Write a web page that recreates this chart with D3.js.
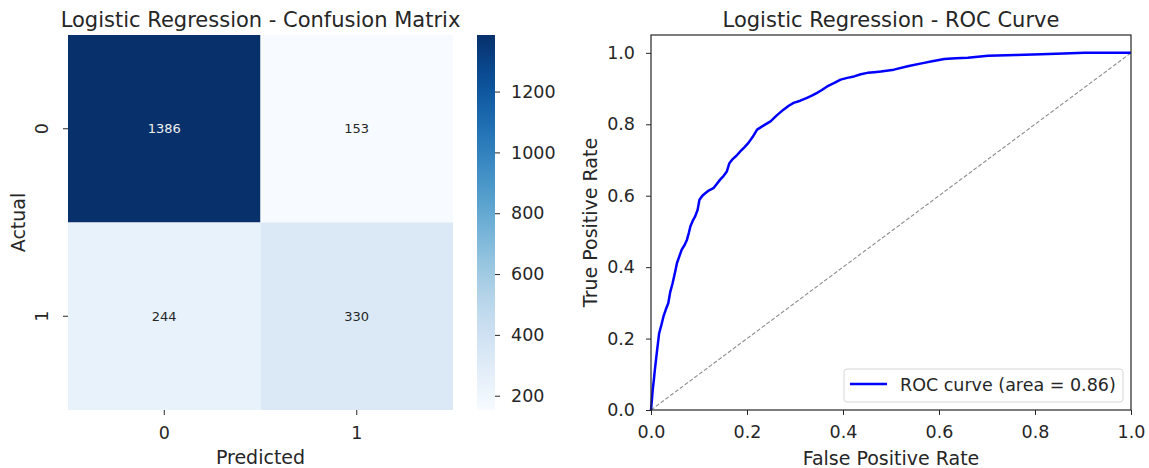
<!DOCTYPE html>
<html>
<head>
<meta charset="utf-8">
<script src="https://cdn.jsdelivr.net/npm/d3@7"></script>
<style>
  html, body { margin: 0; padding: 0; background: #fff; }
  svg text { font-family: "DejaVu Sans", sans-serif; fill: #262626; }
</style>
</head>
<body>
<svg id="chart" width="1149" height="468"></svg>
<script>
// Confusion matrix counts (rows = actual, columns = predicted)
const classLabels = ["0", "1"];
const matrixRow0 = [1386, 153];
const matrixRow1 = [244, 330];
const colorbarTicks = [200, 400, 600, 800, 1000, 1200];

// ROC curve points (false positive rate, true positive rate)
const rocFpr = [0, 0.002, 0.0035, 0.006, 0.008, 0.012, 0.017, 0.022, 0.026, 0.031, 0.036, 0.040, 0.045, 0.050, 0.054, 0.059, 0.064, 0.070, 0.075, 0.079, 0.082, 0.087, 0.092, 0.097, 0.101, 0.107, 0.113, 0.121, 0.130, 0.137, 0.144, 0.151, 0.158, 0.163, 0.169, 0.178, 0.186, 0.195, 0.203, 0.212, 0.221, 0.235, 0.249, 0.262, 0.276, 0.287, 0.297, 0.311, 0.325, 0.335, 0.346, 0.356, 0.367, 0.381, 0.395, 0.409, 0.423, 0.437, 0.451, 0.465, 0.479, 0.506, 0.537, 0.569, 0.583, 0.611, 0.635, 0.660, 0.702, 0.760, 0.813, 0.860, 0.903, 0.950, 1.0];
const rocTpr = [0, 0.030, 0.056, 0.085, 0.112, 0.159, 0.215, 0.240, 0.262, 0.282, 0.299, 0.330, 0.355, 0.385, 0.411, 0.430, 0.449, 0.462, 0.477, 0.497, 0.514, 0.530, 0.542, 0.560, 0.589, 0.600, 0.607, 0.615, 0.621, 0.633, 0.645, 0.655, 0.668, 0.690, 0.701, 0.712, 0.724, 0.736, 0.748, 0.765, 0.785, 0.797, 0.808, 0.825, 0.841, 0.852, 0.860, 0.866, 0.874, 0.880, 0.888, 0.896, 0.906, 0.915, 0.925, 0.930, 0.934, 0.940, 0.944, 0.946, 0.948, 0.953, 0.963, 0.972, 0.976, 0.983, 0.985, 0.986, 0.992, 0.994, 0.996, 0.998, 1.0, 1.0, 1.0];
const rocTicks = [0, 0.2, 0.4, 0.6, 0.8, 1.0];
const aucLabel = "ROC curve (area = 0.86)";

const svg = d3.select("#chart");
const tickFont = 17.5;
const labelFont = 19;
const titleFont = 21;

// ---------- Confusion matrix heatmap ----------
const hm = { left: 68, right: 453, top: 35, bottom: 410 };
const matrix = [matrixRow0, matrixRow1];
const cells = [];
matrix.forEach((row, i) => row.forEach((v, j) => cells.push({ actual: classLabels[i], predicted: classLabels[j], value: v })));

const allVals = cells.map(d => d.value);
const vmin = d3.min(allVals), vmax = d3.max(allVals);
const color = d3.scaleSequential(d3.interpolateBlues).domain([vmin, vmax]);

const xBand = d3.scaleBand().domain(classLabels).range([hm.left, hm.right]);
const yBand = d3.scaleBand().domain(classLabels).range([hm.top, hm.bottom]);

const hmG = svg.append("g");
hmG.selectAll("rect.cell").data(cells).join("rect")
  .attr("class", "cell")
  .attr("x", d => xBand(d.predicted))
  .attr("y", d => yBand(d.actual))
  .attr("width", xBand.bandwidth())
  .attr("height", yBand.bandwidth())
  .attr("fill", d => color(d.value));

hmG.selectAll("text.annot").data(cells).join("text")
  .attr("class", "annot")
  .attr("x", d => xBand(d.predicted) + xBand.bandwidth() / 2)
  .attr("y", d => yBand(d.actual) + yBand.bandwidth() / 2)
  .attr("text-anchor", "middle")
  .attr("dominant-baseline", "central")
  .style("font-size", "13px")
  .style("fill", d => (d.value - vmin) / (vmax - vmin) > 0.6 ? "#f0f0f0" : "#262626")
  .text(d => d.value);

// heatmap axes (no domain line)
const hmX = hmG.append("g").attr("transform", `translate(0,${hm.bottom})`)
  .call(d3.axisBottom(xBand).tickSize(5).tickPadding(12));
hmX.select(".domain").remove();
hmX.selectAll("text").style("font-size", tickFont + "px").attr("fill", "#262626");
hmX.selectAll("line").attr("stroke", "#262626");

const hmY = hmG.append("g").attr("transform", `translate(${hm.left},0)`)
  .call(d3.axisLeft(yBand).tickSize(5).tickPadding(0));
hmY.select(".domain").remove();
hmY.selectAll("line").attr("stroke", "#262626");
hmY.selectAll("text")
  .style("font-size", tickFont + "px").attr("fill", "#262626")
  .attr("x", null).attr("dy", null)
  .attr("text-anchor", "middle")
  .attr("transform", "translate(-20,0) rotate(-90)");

svg.append("text").attr("x", (hm.left + hm.right) / 2).attr("y", 464)
  .attr("text-anchor", "middle").style("font-size", labelFont + "px").text("Predicted");
svg.append("text").attr("transform", `translate(25,${(hm.top + hm.bottom) / 2}) rotate(-90)`)
  .attr("text-anchor", "middle").style("font-size", labelFont + "px").text("Actual");
svg.append("text").attr("x", (hm.left + hm.right) / 2).attr("y", 26.5)
  .attr("text-anchor", "middle").style("font-size", titleFont + "px").text("Logistic Regression - Confusion Matrix");

// colorbar
const cb = { x: 477, w: 18, top: 35, bottom: 410 };
const defs = svg.append("defs");
const grad = defs.append("linearGradient").attr("id", "cbGrad")
  .attr("x1", 0).attr("y1", 1).attr("x2", 0).attr("y2", 0);
d3.range(0, 1.0001, 0.05).forEach(t => {
  grad.append("stop").attr("offset", t).attr("stop-color", color(vmin + t * (vmax - vmin)));
});
svg.append("rect").attr("x", cb.x).attr("y", cb.top).attr("width", cb.w)
  .attr("height", cb.bottom - cb.top).attr("fill", "url(#cbGrad)");
const cbScale = d3.scaleLinear().domain([vmin, vmax]).range([cb.bottom, cb.top]);
const cbAxis = svg.append("g").attr("transform", `translate(${cb.x + cb.w},0)`)
  .call(d3.axisRight(cbScale).tickValues(colorbarTicks).tickFormat(d3.format("d")).tickSize(5).tickPadding(11));
cbAxis.select(".domain").remove();
cbAxis.selectAll("line").attr("stroke", "#262626");
cbAxis.selectAll("text").style("font-size", tickFont + "px").attr("fill", "#262626");

// ---------- ROC curve ----------
const rc = { left: 651, right: 1131, top: 35, bottom: 410 };
const xS = d3.scaleLinear().domain([0, 1]).range([rc.left, rc.right]);
const yS = d3.scaleLinear().domain([0, 1.05]).range([rc.bottom, rc.top]);

const rocG = svg.append("g");
rocG.append("line")
  .attr("x1", xS(0)).attr("y1", yS(0)).attr("x2", xS(1)).attr("y2", yS(1))
  .attr("stroke", "#8c8c8c").attr("stroke-width", 1.1).attr("stroke-dasharray", "4,2");

const rocPts = rocFpr.map((f, i) => [f, rocTpr[i]]);
rocG.append("path").datum(rocPts)
  .attr("fill", "none").attr("stroke", "#0000ff").attr("stroke-width", 2.5)
  .attr("stroke-linejoin", "round")
  .attr("d", d3.line().x(d => xS(d[0])).y(d => yS(d[1])));

const rx = rocG.append("g").attr("transform", `translate(0,${rc.bottom})`)
  .call(d3.axisBottom(xS).tickValues(rocTicks).tickFormat(d3.format(".1f")).tickSize(5).tickPadding(11));
const ry = rocG.append("g").attr("transform", `translate(${rc.left},0)`)
  .call(d3.axisLeft(yS).tickValues(rocTicks).tickFormat(d3.format(".1f")).tickSize(5).tickPadding(11));
[rx, ry].forEach(a => {
  a.select(".domain").remove();
  a.selectAll("line").attr("stroke", "#262626");
  a.selectAll("text").style("font-size", tickFont + "px").attr("fill", "#262626");
});
rocG.append("rect").attr("x", rc.left).attr("y", rc.top)
  .attr("width", rc.right - rc.left).attr("height", rc.bottom - rc.top)
  .attr("fill", "none").attr("stroke", "#262626").attr("stroke-width", 1.2);

svg.append("text").attr("x", (rc.left + rc.right) / 2).attr("y", 465)
  .attr("text-anchor", "middle").style("font-size", labelFont + "px").text("False Positive Rate");
svg.append("text").attr("transform", `translate(597,${(rc.top + rc.bottom) / 2}) rotate(-90)`)
  .attr("text-anchor", "middle").style("font-size", labelFont + "px").text("True Positive Rate");
svg.append("text").attr("x", (rc.left + rc.right) / 2).attr("y", 26.5)
  .attr("text-anchor", "middle").style("font-size", titleFont + "px").text("Logistic Regression - ROC Curve");

// legend
const lg = svg.append("g");
lg.append("rect").attr("x", 844).attr("y", 369).attr("width", 279).attr("height", 33)
  .attr("rx", 3).attr("fill", "#fff").attr("fill-opacity", 0.8)
  .attr("stroke", "#d6d6d6").attr("stroke-width", 1);
lg.append("line").attr("x1", 850).attr("x2", 887).attr("y1", 384).attr("y2", 384)
  .attr("stroke", "#0000ff").attr("stroke-width", 2.5);
lg.append("text").attr("x", 900).attr("y", 385).attr("dominant-baseline", "central")
  .style("font-size", tickFont + "px").text(aucLabel);
</script>
</body>
</html>
